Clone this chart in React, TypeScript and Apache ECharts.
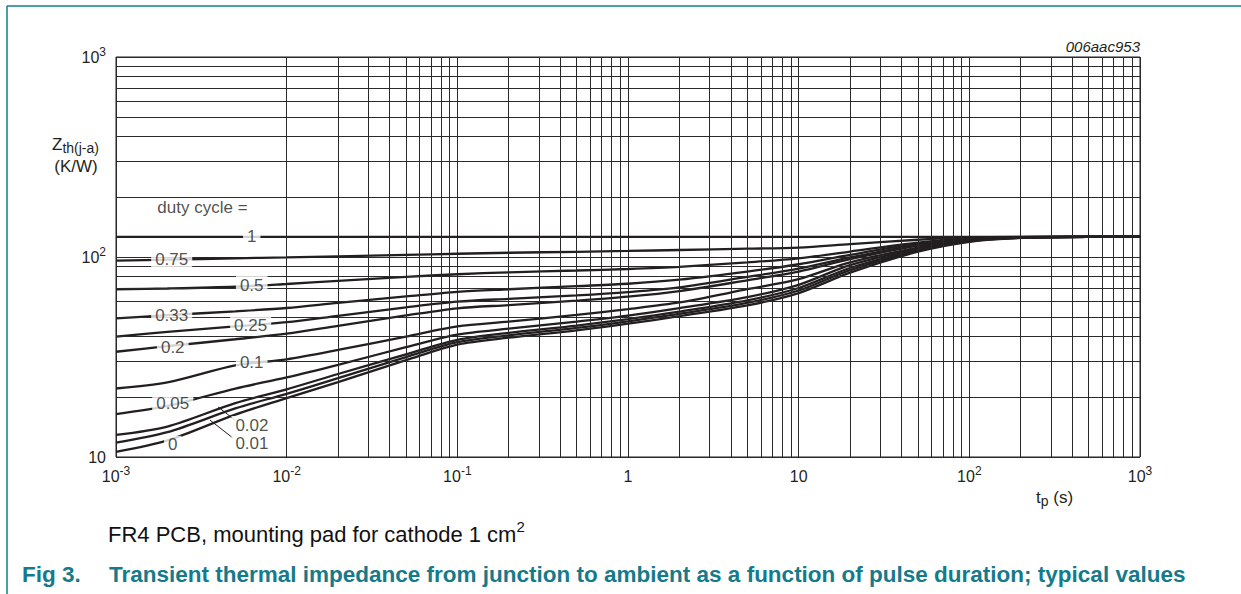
import React, { useEffect, useRef } from "react";
import * as echarts from "echarts";

// pulse duration t_p (s)
const tp = [0.001, 0.002, 0.005, 0.01, 0.02, 0.05, 0.1, 0.2, 0.5, 1, 2, 5, 10, 20, 50, 100, 200, 500, 1000];

// Zth(j-a) (K/W) for each duty cycle
const z_1 = [126, 126, 126, 126, 126, 126, 126, 126, 126, 126, 126, 126, 126, 126, 126, 126, 126, 126, 126];
const z_075 = [96, 97, 98.5, 99.6, 100.8, 102.5, 103.8, 105, 106.2, 107.2, 108.4, 110, 111.5, 116, 122, 125.3, 126, 126, 126];
const z_05 = [69, 69.6, 71, 73.3, 76, 79.5, 82, 83.8, 85.6, 87.1, 89.3, 94, 98.5, 106.5, 118, 124.3, 125.8, 126, 126];
const z_033 = [49.3, 51.2, 53.5, 55.6, 59, 63.5, 67, 69, 71.5, 73.5, 77, 84.5, 92, 102.5, 116.5, 123.8, 125.6, 126, 126];
const z_025 = [40, 42.2, 45, 47.2, 50.8, 56, 59.8, 61.8, 64.3, 66.8, 70.5, 79.5, 87.5, 99.5, 115, 123.4, 125.5, 126, 126];
const z_02 = [33.6, 35.8, 38.8, 41.4, 45.3, 51, 55.4, 57.5, 60.5, 63.3, 67.5, 76.5, 84.5, 97.5, 114, 123, 125.4, 126, 126];
const z_01 = [22, 23.6, 28.7, 30.8, 34.3, 40, 45, 47.5, 51.3, 54.9, 59.3, 69, 77.5, 94, 111.5, 122, 125.2, 126, 126];
const z_005 = [16.4, 18, 22, 25, 28.9, 35.4, 40.9, 43.8, 47.5, 50.9, 55.5, 63, 72.6, 91, 110, 121, 125.1, 126, 126];
const z_002 = [12.9, 14.2, 18.6, 21.8, 26, 32.6, 38.5, 41.7, 45.4, 48.9, 53.3, 60.7, 70, 88.1, 108.6, 120.2, 124.9, 126, 126];
const z_001 = [11.8, 13.3, 17.5, 20.7, 24.8, 31.6, 37.5, 40.6, 44.2, 47.7, 52, 59, 68, 86, 107.6, 119.8, 124.7, 126, 126];
const z_0 = [10.6, 12.1, 16.3, 19.7, 23.7, 30.5, 36.5, 39.5, 43, 46.4, 50.6, 57.3, 66, 83.5, 106.3, 119.2, 124.5, 126, 126];

const dutyNames = ["1", "0.75", "0.5", "0.33", "0.25", "0.2", "0.1", "0.05", "0.02", "0.01", "0"];
const dutySeries = [z_1, z_075, z_05, z_033, z_025, z_02, z_01, z_005, z_002, z_001, z_0];

// curve label anchors [t_p, Zth]
const labelNames = ["duty cycle =", "1", "0.75", "0.5", "0.33", "0.25", "0.2", "0.1", "0.05", "0.02", "0.01", "0"];
const labelT = [3.21e-3, 6.24e-3, 2.12e-3, 6.24e-3, 2.12e-3, 6.15e-3, 2.15e-3, 6.24e-3, 2.15e-3, 6.26e-3, 6.26e-3, 2.15e-3];
const labelZ = [177.8, 126, 97.5, 72.4, 50.9, 45.7, 35.4, 29.6, 18.6, 14.45, 11.7, 11.5];

// leader lines for 0.02 and 0.01
const leader002 = [[4.98e-3, 15.3], [3.96e-3, 17.8]];
const leader001 = [[4.84e-3, 12.45], [3.55e-3, 15.3]];

const xDecades = [-3, -2, -1, 0, 1, 2];
const yDecades = [1, 2];
const minorSteps = [2, 3, 4, 5, 6, 7, 8, 9];

const FONT = "'Liberation Sans', Arial, Helvetica, sans-serif";
const TEAL = "#157a8a";
const GRID = "#2a2a2a";
const INK = "#231f20";

function supLabel(v: number) {
  const e = Math.round(Math.log10(v));
  if (e === 0) return "{b|1}";
  if (e === 1) return "{b|10}";
  return `{b|10}{s|${e}}`;
}

export default function App() {
  const ref = useRef<HTMLDivElement>(null);

  useEffect(() => {
    if (!ref.current) return;
    const chart = echarts.init(ref.current, undefined, { renderer: "svg" });

    const xMinor: number[] = [];
    xDecades.forEach((n) => minorSteps.forEach((k) => xMinor.push(k * Math.pow(10, n))));
    const yMinor: number[] = [];
    yDecades.forEach((n) => minorSteps.forEach((k) => yMinor.push(k * Math.pow(10, n))));

    const rich = {
      b: { fontSize: 16, lineHeight: 22, fontFamily: FONT, color: INK },
      s: { fontSize: 12, verticalAlign: "top", fontFamily: FONT, color: INK },
    };

    const curveSeries = dutySeries.map((vals, i) => ({
      type: "line",
      name: dutyNames[i],
      data: tp.map((t, j) => [t, vals[j]]),
      smooth: 0.3,
      showSymbol: false,
      symbol: "none",
      lineStyle: { color: INK, width: 2.3 },
      z: 3,
      silent: true,
    }));

    const option = {
      animation: false,
      backgroundColor: "#ffffff",
      grid: {
        left: 116,
        top: 57,
        right: 101,
        bottom: 137,
        show: true,
        borderColor: INK,
        borderWidth: 1,
        containLabel: false,
      },
      xAxis: {
        type: "log",
        logBase: 10,
        min: 0.001,
        max: 1000,
        axisLine: { show: false },
        axisTick: { show: false },
        splitLine: { show: true, lineStyle: { color: GRID, width: 1 } },
        axisLabel: { margin: 8, formatter: (v: number) => supLabel(v), rich },
      },
      yAxis: {
        type: "log",
        logBase: 10,
        min: 10,
        max: 1000,
        axisLine: { show: false },
        axisTick: { show: false },
        splitLine: { show: true, lineStyle: { color: GRID, width: 1 } },
        axisLabel: { margin: 10, formatter: (v: number) => supLabel(v), rich },
      },
      series: [
        {
          type: "line",
          data: [[0.001, 10]],
          showSymbol: false,
          symbol: "none",
          lineStyle: { width: 0 },
          silent: true,
          z: 1,
          markLine: {
            silent: true,
            symbol: ["none", "none"],
            label: { show: false },
            lineStyle: { type: "solid", color: GRID, width: 1 },
            emphasis: { disabled: true },
            data: [...xMinor.map((v) => ({ xAxis: v })), ...yMinor.map((v) => ({ yAxis: v }))],
          },
        },
        ...curveSeries,
        {
          type: "line",
          data: leader002,
          showSymbol: false,
          symbol: "none",
          lineStyle: { color: INK, width: 1 },
          z: 4,
          silent: true,
        },
        {
          type: "line",
          data: leader001,
          showSymbol: false,
          symbol: "none",
          lineStyle: { color: INK, width: 1 },
          z: 4,
          silent: true,
        },
        {
          type: "scatter",
          symbolSize: 0,
          silent: true,
          z: 6,
          data: labelNames.map((n, i) => ({ name: n, value: [labelT[i], labelZ[i]] })),
          label: {
            show: true,
            position: "inside",
            formatter: "{b}",
            fontFamily: FONT,
            fontSize: 17,
            color: INK,
            backgroundColor: "#ffffff",
            padding: [1, 4, 0, 4],
          },
        },
      ],
      graphic: [
        { type: "line", silent: true, shape: { x1: 7, y1: 6, x2: 1241, y2: 6 }, style: { stroke: TEAL, lineWidth: 1.5 } },
        { type: "line", silent: true, shape: { x1: 7, y1: 6, x2: 7, y2: 594 }, style: { stroke: TEAL, lineWidth: 1.5 } },
        {
          type: "text",
          x: 52,
          y: 144,
          silent: true,
          style: {
            text: "{z|Z}{sub|th(j-a)}",
            verticalAlign: "middle",
            rich: {
              z: { fontSize: 17, lineHeight: 22, fontFamily: FONT, fill: INK },
              sub: { fontSize: 14, verticalAlign: "bottom", fontFamily: FONT, fill: INK },
            },
          },
        },
        {
          type: "text",
          x: 76,
          y: 166,
          silent: true,
          style: { text: "(K/W)", align: "center", verticalAlign: "middle", fontSize: 17, fontFamily: FONT, fill: INK },
        },
        {
          type: "text",
          x: 1036,
          y: 497,
          silent: true,
          style: {
            text: "{t|t}{sub|p}{t| (s)}",
            verticalAlign: "middle",
            rich: {
              t: { fontSize: 17, lineHeight: 22, fontFamily: FONT, fill: INK },
              sub: { fontSize: 14, verticalAlign: "bottom", fontFamily: FONT, fill: INK },
            },
          },
        },
        {
          type: "text",
          x: 1140,
          y: 46,
          silent: true,
          style: {
            text: "006aac953",
            align: "right",
            verticalAlign: "middle",
            fontSize: 15,
            fontStyle: "italic",
            fontFamily: FONT,
            fill: INK,
          },
        },
        {
          type: "text",
          x: 108,
          y: 534,
          silent: true,
          style: {
            text: "{a|FR4 PCB, mounting pad for cathode 1 cm}{s|2}",
            verticalAlign: "middle",
            rich: {
              a: { fontSize: 22, lineHeight: 30, fontFamily: FONT, fill: "#111111" },
              s: { fontSize: 15, verticalAlign: "top", fontFamily: FONT, fill: "#111111" },
            },
          },
        },
        {
          type: "text",
          x: 22,
          y: 574,
          silent: true,
          style: { text: "Fig 3.", verticalAlign: "middle", fontSize: 22.5, fontWeight: "bold", fontFamily: FONT, fill: TEAL },
        },
        {
          type: "text",
          x: 109,
          y: 574,
          silent: true,
          style: {
            text: "Transient thermal impedance from junction to ambient as a function of pulse duration; typical values",
            verticalAlign: "middle",
            fontSize: 22.5,
            fontWeight: "bold",
            fontFamily: FONT,
            fill: TEAL,
          },
        },
      ],
    };

    chart.setOption(option as any);
    return () => {
      chart.dispose();
    };
  }, []);

  return <div ref={ref} style={{ position: "fixed", left: 0, top: 0, width: 1241, height: 594, background: "#fff" }} />;
}
